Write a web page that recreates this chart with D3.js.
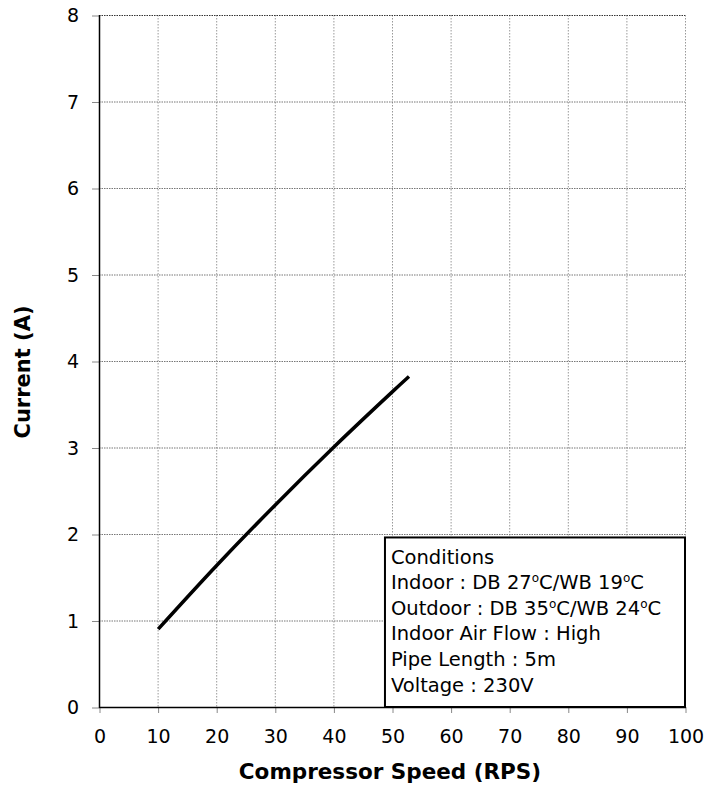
<!DOCTYPE html>
<html><head><meta charset="utf-8">
<script src="https://cdn.jsdelivr.net/npm/d3@7"></script>
<style>body{margin:0;background:#fff}</style>
</head><body>
<svg id="c" width="705" height="788"></svg>
<script>
const speed = [10.1, 20, 30, 40, 50, 52.9];
const current = [0.9, 1.63, 2.33, 3.0, 3.64, 3.82];
const xTicks = [0,10,20,30,40,50,60,70,80,90,100];
const yTicks = [0,1,2,3,4,5,6,7,8];
const conditions = [
  ["Conditions"],
  ["Indoor : DB 27","o","C/WB 19","o","C"],
  ["Outdoor : DB 35","o","C/WB 24","o","C"],
  ["Indoor Air Flow : High"],
  ["Pipe Length : 5m"],
  ["Voltage : 230V"]
];
const font = "Tahoma, 'DejaVu Sans', sans-serif";
const svg = d3.select("#c");
const m = {l:99, r:685, t:15, b:707};
const x = d3.scaleLinear().domain([0,100]).range([m.l, m.r]);
const y = d3.scaleLinear().domain([0,8]).range([m.b, m.t]);

// grid
const g = svg.append("g");
g.selectAll(".vx").data(xTicks.slice(1)).join("line")
  .attr("x1", d=>x(d)+0.5).attr("x2", d=>x(d)+0.5).attr("y1", m.t).attr("y2", m.b)
  .attr("stroke", "#999").attr("stroke-dasharray","1.5,1.5").attr("stroke-width",1);
g.selectAll(".hy").data(yTicks.slice(1)).join("line")
  .attr("y1", d=>y(d)+0.5).attr("y2", d=>y(d)+0.5).attr("x1", m.l).attr("x2", m.r)
  .attr("stroke", d=>d===8?"#333":"#777").attr("stroke-dasharray","1.5,1").attr("stroke-width",1);

// axes
const xa = svg.append("g").attr("transform",`translate(0.5,${m.b})`)
  .call(d3.axisBottom(x).tickValues(xTicks).tickSize(6).tickSizeOuter(0).tickPadding(17));
xa.select(".domain").remove();
xa.selectAll(".tick line").attr("stroke","#888");
xa.selectAll("text").attr("font-family",font).attr("font-size",19).attr("fill","#000");
const ya = svg.append("g").attr("transform",`translate(${m.l},0.5)`)
  .call(d3.axisLeft(y).tickValues(yTicks).tickSize(7).tickSizeOuter(0).tickPadding(13));
ya.select(".domain").remove();
ya.selectAll(".tick line").attr("stroke","#888");
ya.selectAll("text").attr("font-family",font).attr("font-size",19).attr("fill","#000");

svg.append("line").attr("x1",m.l+0.5).attr("x2",m.l+0.5).attr("y1",m.t).attr("y2",m.b+1).attr("stroke","#000").attr("stroke-width",1.5);
svg.append("line").attr("x1",m.l).attr("x2",m.r+1).attr("y1",m.b+0.5).attr("y2",m.b+0.5).attr("stroke","#000").attr("stroke-width",1.5);

// line
const pts = speed.map((s,i)=>[s,current[i]]);
svg.append("path").datum(pts)
  .attr("d", d3.line().x(d=>x(d[0])).y(d=>y(d[1])).curve(d3.curveCatmullRom))
  .attr("fill","none").attr("stroke","#000").attr("stroke-width",3.5)
  .attr("stroke-linejoin","round");

// conditions box
const bx = x(48.8), by = y(1.96);
svg.append("rect").attr("x",bx).attr("y",by).attr("width",m.r - bx).attr("height",m.b - by)
  .attr("fill","#fff").attr("stroke","#000").attr("stroke-width",2);
conditions.forEach((parts,i)=>{
  const line = svg.append("text").attr("x",bx+6).attr("y",563.5+i*25.6)
    .attr("font-family",font).attr("font-size",19.5).attr("fill","#000");
  parts.forEach((p,j)=>{
    const sp = line.append("tspan").text(p);
    if (p==="o") sp.attr("font-size",12).attr("dy",-7);
    else if (j>0) sp.attr("dy",7);
  });
});

// titles
svg.append("text").attr("x",390).attr("y",779).attr("text-anchor","middle")
  .attr("font-family",font).attr("font-weight","bold").attr("font-size",21.5).text("Compressor Speed (RPS)");
svg.append("text").attr("transform",`translate(30,372) rotate(-90)`).attr("text-anchor","middle")
  .attr("font-family",font).attr("font-weight","bold").attr("font-size",21).text("Current (A)");
</script>
</body></html>
